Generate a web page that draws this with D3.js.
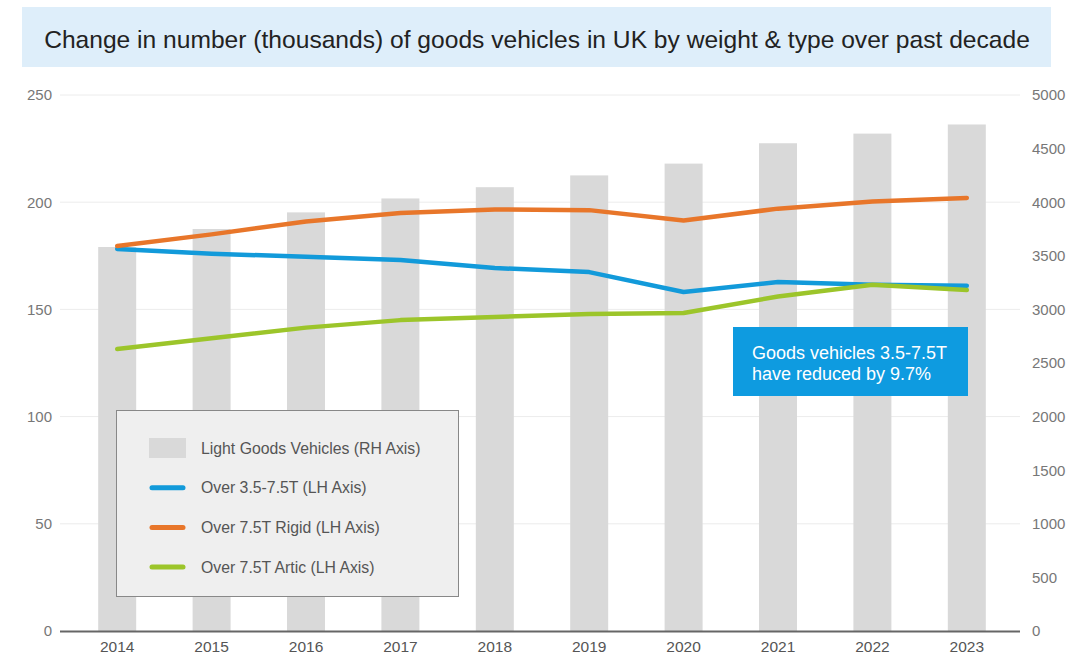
<!DOCTYPE html>
<html><head><meta charset="utf-8">
<script src="https://cdn.jsdelivr.net/npm/d3@7"></script>
<style>body{margin:0;background:#fff;} svg{display:block;font-family:"Liberation Sans",Arial,sans-serif;}</style>
</head><body>
<script>
const years = ["2014","2015","2016","2017","2018","2019","2020","2021","2022","2023"];
const lightGoods = [3582,3750,3905,4035,4140,4250,4360,4550,4640,4725];
const over35to75 = [178.2,176.0,174.5,173.0,169.3,167.4,158.1,162.8,161.5,161.0];
const over75Rigid = [179.6,185.0,191.0,195.0,196.6,196.3,191.5,197.0,200.3,202.0];
const over75Artic = [131.5,136.5,141.5,145.0,146.5,147.8,148.3,156.0,161.5,159.0];
const leftTicks = [0,50,100,150,200,250];
const rightTicks = [0,500,1000,1500,2000,2500,3000,3500,4000,4500,5000];
const titleText = "Change in number (thousands) of goods vehicles in UK by weight & type over past decade";
const annotation = ["Goods vehicles 3.5-7.5T","have reduced by 9.7%"];
const legendItems = [
  {label:"Light Goods Vehicles (RH Axis)", type:"rect", color:"#d9d9d9"},
  {label:"Over 3.5-7.5T (LH Axis)", type:"line", color:"#129ada"},
  {label:"Over 7.5T Rigid (LH Axis)", type:"line", color:"#e8762a"},
  {label:"Over 7.5T Artic (LH Axis)", type:"line", color:"#9cc52a"}
];
const lineSeries = [
  {values:over35to75, color:"#129ada"},
  {values:over75Rigid, color:"#e8762a"},
  {values:over75Artic, color:"#9cc52a"}
];

const W=1071,H=656;
const svg=d3.select("body").append("svg").attr("width",W).attr("height",H);

// title
svg.append("rect").attr("x",22).attr("y",7).attr("width",1029).attr("height",60).attr("fill","#deeefa");
svg.append("text").attr("x",537).attr("y",48).attr("text-anchor","middle").attr("font-size",24.6).attr("fill","#222").text(titleText);

const yL=d3.scaleLinear().domain([0,250]).range([631,95]);
const yR=d3.scaleLinear().domain([0,5000]).range([631,95]);

// grid
svg.append("g").selectAll("line").data(leftTicks.filter(d=>d>0)).join("line")
  .attr("x1",60).attr("x2",1020).attr("y1",d=>yL(d)).attr("y2",d=>yL(d))
  .attr("stroke","#ececec").attr("stroke-width",1);

// bars
const xb=d3.scaleBand().domain(years).range([70,1014]);
const bw=38;
svg.append("g").selectAll("rect").data(years).join("rect")
  .attr("x",d=>xb(d)+xb.bandwidth()/2-bw/2).attr("width",bw)
  .attr("y",(d,i)=>yR(lightGoods[i])).attr("height",(d,i)=>yR(0)-yR(lightGoods[i]))
  .attr("fill","#d9d9d9");

// axes
const axL=d3.axisLeft(yL).tickValues(leftTicks).tickSize(0).tickPadding(0).tickFormat(d3.format("d"));
const gL=svg.append("g").attr("transform","translate(52,0)").call(axL);
gL.select(".domain").remove();
gL.selectAll("text").attr("font-size",15).attr("fill","#777").attr("font-family","Liberation Sans, Arial, sans-serif");

const axR=d3.axisRight(yR).tickValues(rightTicks).tickSize(0).tickPadding(0).tickFormat(d3.format("d"));
const gR=svg.append("g").attr("transform","translate(1032,0)").call(axR);
gR.select(".domain").remove();
gR.selectAll("text").attr("font-size",15).attr("fill","#777").attr("font-family","Liberation Sans, Arial, sans-serif");

const axB=d3.axisBottom(xb).tickSize(0).tickPadding(10);
const gB=svg.append("g").attr("transform","translate(0,631)").call(axB);
gB.select(".domain").remove();
gB.selectAll("text").attr("font-size",15.5).attr("fill","#555").attr("font-family","Liberation Sans, Arial, sans-serif");
svg.append("line").attr("x1",60).attr("x2",1020).attr("y1",631.5).attr("y2",631.5).attr("stroke","#666").attr("stroke-width",2);

// lines
const xc=d=>xb(d)+xb.bandwidth()/2;
const lineGen=vals=>d3.line().x((d,i)=>xc(years[i])).y(d=>yL(d))(vals);
svg.append("g").selectAll("path").data(lineSeries).join("path")
  .attr("d",d=>lineGen(d.values)).attr("fill","none").attr("stroke",d=>d.color)
  .attr("stroke-width",4.5).attr("stroke-linejoin","round").attr("stroke-linecap","round");

// legend
const lg=svg.append("g");
lg.append("rect").attr("x",116.5).attr("y",410.5).attr("width",342).attr("height",186).attr("fill","#efefef").attr("stroke","#888").attr("stroke-width",1);
const li=lg.selectAll("g.item").data(legendItems).join("g").attr("class","item")
  .attr("transform",(d,i)=>`translate(0,${448+i*39.7})`);
li.filter(d=>d.type==="rect").append("rect").attr("x",149).attr("y",-10).attr("width",37).attr("height",20).attr("fill",d=>d.color);
li.filter(d=>d.type==="line").append("line").attr("x1",152).attr("x2",183).attr("y1",0).attr("y2",0)
  .attr("stroke",d=>d.color).attr("stroke-width",5).attr("stroke-linecap","round");
li.append("text").attr("x",201).attr("y",5.5).attr("font-size",15.8).attr("fill","#555").text(d=>d.label);

// annotation
svg.append("rect").attr("x",733).attr("y",327).attr("width",235).attr("height",69).attr("fill","#0e9be0");
svg.append("g").selectAll("text").data(annotation).join("text")
  .attr("x",752).attr("y",(d,i)=>359+i*21).attr("font-size",18).attr("fill","#fff").text(d=>d);
</script>
</body></html>
